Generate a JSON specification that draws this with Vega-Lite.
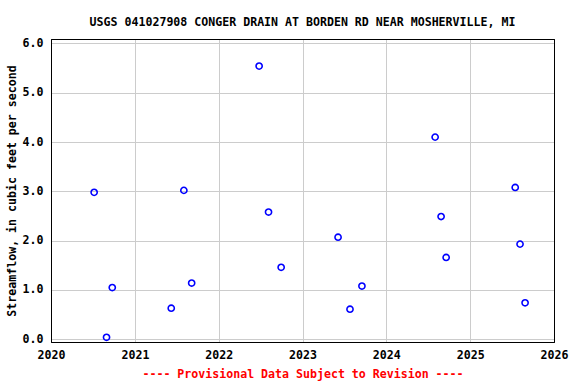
{
  "$schema": "https://vega.github.io/schema/vega-lite/v6.json",
  "width": 503,
  "height": 303,
  "autosize": {"type": "none"},
  "padding": {"left": 51, "top": 39, "right": 22, "bottom": 42},
  "background": "white",
  "title": {
    "text": "USGS 041027908 CONGER DRAIN AT BORDEN RD NEAR MOSHERVILLE, MI",
    "font": "DejaVu Sans Mono",
    "fontSize": 11.6,
    "fontWeight": "bold",
    "color": "black",
    "anchor": "middle",
    "frame": "group",
    "baseline": "alphabetic",
    "offset": -0.5
  },
  "data": {
    "values": [
      {"date": "2020-07-07", "flow": 2.98},
      {"date": "2020-08-30", "flow": 0.04},
      {"date": "2020-09-24", "flow": 1.05},
      {"date": "2021-06-08", "flow": 0.63},
      {"date": "2021-08-02", "flow": 3.02},
      {"date": "2021-09-05", "flow": 1.14},
      {"date": "2022-06-26", "flow": 5.54},
      {"date": "2022-08-06", "flow": 2.58},
      {"date": "2022-09-30", "flow": 1.46},
      {"date": "2023-06-05", "flow": 2.07},
      {"date": "2023-07-27", "flow": 0.61},
      {"date": "2023-09-17", "flow": 1.08},
      {"date": "2024-08-01", "flow": 4.10},
      {"date": "2024-08-27", "flow": 2.49},
      {"date": "2024-09-18", "flow": 1.66},
      {"date": "2025-07-16", "flow": 3.08},
      {"date": "2025-08-06", "flow": 1.93},
      {"date": "2025-08-28", "flow": 0.74}
    ]
  },
  "layer": [
    {
      "mark": {"type": "point", "opacity": 0},
      "encoding": {
        "x": {
          "field": "date",
          "type": "temporal",
          "scale": {
            "type": "utc",
            "domain": [
              {"year": 2020, "month": 1, "date": 1, "utc": true},
              {"year": 2026, "month": 1, "date": 1, "utc": true}
            ]
          },
          "axis": {
            "orient": "top",
            "values": [
              {"year": 2021, "month": 1, "date": 1, "utc": true},
              {"year": 2022, "month": 1, "date": 1, "utc": true},
              {"year": 2023, "month": 1, "date": 1, "utc": true},
              {"year": 2024, "month": 1, "date": 1, "utc": true},
              {"year": 2025, "month": 1, "date": 1, "utc": true}
            ],
            "grid": true,
            "gridColor": "#cccccc",
            "gridWidth": 1,
            "labels": false,
            "ticks": false,
            "tickSize": 0,
            "domain": true,
            "domainColor": "black",
            "domainWidth": 1,
            "title": null
          }
        },
        "y": {
          "field": "flow",
          "type": "quantitative",
          "scale": {"domain": [-0.055, 6.09], "nice": false, "zero": false},
          "axis": {
            "orient": "right",
            "grid": false,
            "labels": false,
            "ticks": false,
            "tickSize": 0,
            "domain": true,
            "domainColor": "black",
            "domainWidth": 1,
            "title": null
          }
        }
      }
    },
    {
      "mark": {
        "type": "point",
        "shape": "circle",
        "filled": false,
        "color": "#0000FF",
        "strokeWidth": 1.6,
        "size": 38,
        "opacity": 1
      },
      "encoding": {
        "x": {
          "field": "date",
          "type": "temporal",
          "axis": {
            "orient": "bottom",
            "values": [
              {"year": 2020, "month": 1, "date": 1, "utc": true},
              {"year": 2021, "month": 1, "date": 1, "utc": true},
              {"year": 2022, "month": 1, "date": 1, "utc": true},
              {"year": 2023, "month": 1, "date": 1, "utc": true},
              {"year": 2024, "month": 1, "date": 1, "utc": true},
              {"year": 2025, "month": 1, "date": 1, "utc": true},
              {"year": 2026, "month": 1, "date": 1, "utc": true}
            ],
            "format": "%Y",
            "formatType": "utc",
            "grid": false,
            "domain": true,
            "domainColor": "black",
            "domainWidth": 1,
            "ticks": false,
            "tickSize": 0,
            "labelFont": "DejaVu Sans Mono",
            "labelFontSize": 11.6,
            "labelFontWeight": "bold",
            "labelColor": "black",
            "labelPadding": 7,
            "labelOverlap": false,
            "labelFlush": false,
            "title": "---- Provisional Data Subject to Revision ----",
            "titleFont": "DejaVu Sans Mono",
            "titleFontSize": 11.6,
            "titleFontWeight": "bold",
            "titleColor": "#FF0000",
            "titlePadding": 8
          }
        },
        "y": {
          "field": "flow",
          "type": "quantitative",
          "axis": {
            "orient": "left",
            "values": [0, 1, 2, 3, 4, 5, 6],
            "format": ".1f",
            "grid": true,
            "gridColor": "#cccccc",
            "gridWidth": 1,
            "domain": true,
            "domainColor": "black",
            "domainWidth": 1,
            "ticks": false,
            "tickSize": 0,
            "labelFont": "DejaVu Sans Mono",
            "labelFontSize": 11.6,
            "labelFontWeight": "bold",
            "labelColor": "black",
            "labelPadding": 8,
            "title": "Streamflow, in cubic feet per second",
            "titleFont": "DejaVu Sans Mono",
            "titleFontSize": 11.6,
            "titleFontWeight": "bold",
            "titleColor": "black",
            "titleAngle": -90,
            "titleAlign": "center",
            "titleBaseline": "middle",
            "titleX": -39,
            "titleY": 151.5
          }
        }
      }
    }
  ],
  "resolve": {"axis": {"x": "independent", "y": "independent"}},
  "config": {
    "view": {"stroke": "black", "strokeWidth": 1}
  }
}
